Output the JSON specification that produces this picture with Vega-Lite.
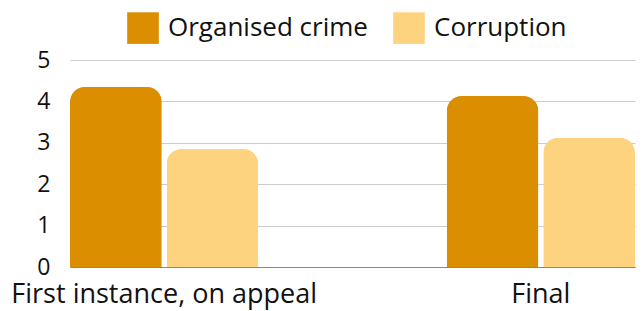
{
  "$schema": "https://vega.github.io/schema/vega-lite/v6.json",
  "width": 565,
  "height": 207,
  "autosize": {"type": "none"},
  "padding": {"left": 70, "top": 60, "right": 9, "bottom": 44},
  "config": {
    "font": "Open Sans",
    "view": {"stroke": null}
  },
  "data": {
    "values": [
      {"stage": "First instance, on appeal", "type": "Organised crime", "value": 4.35},
      {"stage": "First instance, on appeal", "type": "Corruption", "value": 2.85},
      {"stage": "Final", "type": "Organised crime", "value": 4.13},
      {"stage": "Final", "type": "Corruption", "value": 3.12}
    ]
  },
  "mark": {"type": "bar", "cornerRadiusTopLeft": 15, "cornerRadiusTopRight": 15},
  "encoding": {
    "x": {
      "field": "stage", "type": "nominal", "sort": ["First instance, on appeal", "Final"],
      "scale": {"paddingInner": 0.5, "paddingOuter": 0, "align": 0},
      "axis": {"title": null, "labelAngle": 0, "labelFontSize": 27, "labelColor": "#111", "labelLimit": 0, "labelOverlap": false, "ticks": false, "domainColor": "#888", "labelPadding": 14}
    },
    "xOffset": {
      "field": "type", "type": "nominal", "sort": ["Organised crime", "Corruption"],
      "scale": {"paddingInner": 0.05, "paddingOuter": 0}
    },
    "y": {
      "field": "value", "type": "quantitative",
      "scale": {"domain": [0, 5]},
      "axis": {"title": null, "values": [0,1,2,3,4,5], "labelFontSize": 23, "labelColor": "#111", "labelOverlap": false, "ticks": false, "domain": false, "gridColor": "#cccccc", "labelPadding": 20}
    },
    "color": {
      "field": "type", "type": "nominal", "sort": ["Organised crime", "Corruption"],
      "scale": {"range": ["#db8e00", "#fed380"]},
      "legend": {"title": null, "orient": "none", "legendX": 57, "legendY": -48, "direction": "horizontal", "symbolType": "square", "symbolSize": 1000, "symbolStrokeWidth": 0, "labelFontSize": 26, "labelLimit": 0, "labelColor": "#111", "columnPadding": 25, "labelOffset": 9}
    }
  }
}
